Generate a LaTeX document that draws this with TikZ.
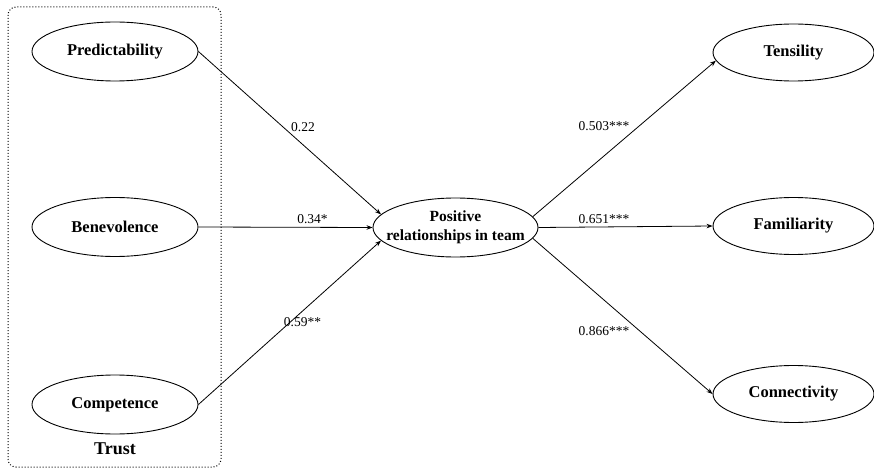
\documentclass[tikz,border=0pt]{standalone}
\usepackage{fontspec}
\setmainfont{Liberation Serif}
\usetikzlibrary{shapes.geometric,arrows.meta}
\begin{document}
\begin{tikzpicture}[x=1pt,y=-1pt,
  construct/.style={ellipse,draw,line width=0.9pt,inner sep=0pt,minimum width=166pt,minimum height=59pt,
    font=\fontsize{16.5}{19}\selectfont\bfseries},
  outcome/.style={construct,minimum width=161pt,minimum height=57pt},
  path/.style={line width=0.8pt,-{Stealth[length=6pt,width=4.5pt]}},
  coef/.style={font=\fontsize{13.5}{15}\selectfont,inner sep=0pt}]
\useasboundingbox (0,0) rectangle (874,470);
\draw[dotted,line width=1pt,rounded corners=8pt] (8,7) rectangle (221,467);
\node[construct] (pre) at (115,51.5) {Predictability};
\node[construct] (ben) at (115,227) {Benevolence};
\node[construct] (com) at (115,404.5) {Competence};
\node[font=\fontsize{18}{20}\selectfont\bfseries] (trust) at (115,449) {Trust};
\node[construct,minimum width=165pt] (rel) at (455.5,227.5) {};
\node[align=center,font=\fontsize{15.5}{19}\selectfont\bfseries] (reltext) at (rel) {Positive\\relationships in team};
\node[outcome] (ten) at (793.5,52.5) {Tensility};
\node[outcome] (fam) at (793.5,226) {Familiarity};
\node[outcome] (con) at (793.5,394) {Connectivity};
\draw[path] (pre.east) -- (rel.170);
\draw[path] (ben.east) -- (rel.west);
\draw[path] (com.east) -- (rel.190);
\draw[path] (rel.8) -- (ten.186);
\draw[path] (rel.east) -- (fam.west);
\draw[path] (rel.-8) -- (con.west);
\node[coef] (c1) at (303,127.5) {0.22};
\node[coef] (c2) at (312.5,219) {0.34*};
\node[coef] (c3) at (302.5,322) {0.59**};
\node[coef] (c4) at (604,126.5) {0.503***};
\node[coef] (c5) at (604,219) {0.651***};
\node[coef] (c6) at (604,331) {0.866***};
\end{tikzpicture}
\end{document}
